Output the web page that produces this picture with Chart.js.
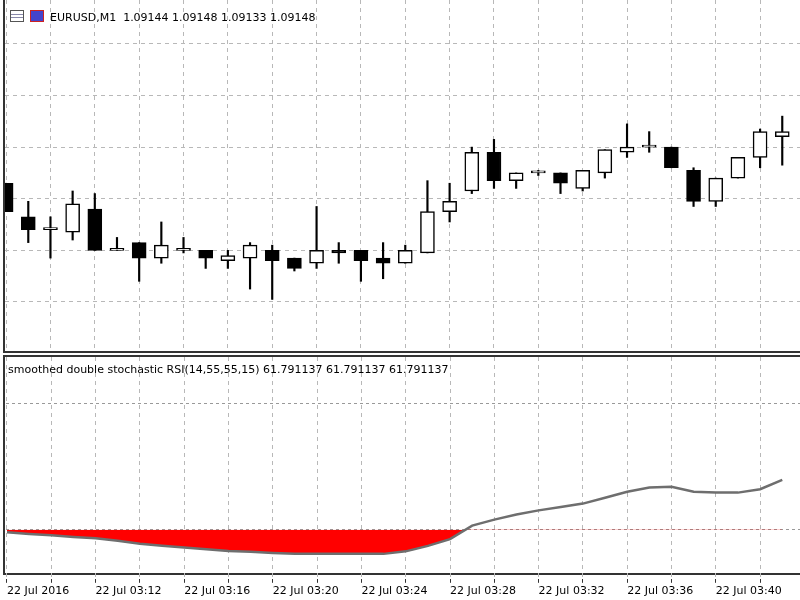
<!DOCTYPE html>
<html>
<head>
<meta charset="utf-8">
<script src="https://cdn.jsdelivr.net/npm/chart.js@4"></script>
<style>
  body { margin:0; width:800px; height:600px; background:#fff; overflow:hidden; position:relative; font-family:Tahoma, "DejaVu Sans", sans-serif; }
  #topPane { position:absolute; left:3px; top:0; width:797px; height:353px; border-left:2px solid #333; border-bottom:2px solid #333; box-sizing:border-box; }
  #botPane { position:absolute; left:3px; top:355px; width:797px; height:220px; border-left:2px solid #333; border-top:2px solid #333; border-bottom:2px solid #333; box-sizing:border-box; }
  #c1 { position:absolute; left:5px; top:0; }
  #c2 { position:absolute; left:5px; top:357px; }
  .t { position:absolute; font-size:11px; color:#000; white-space:nowrap; }
  .ico { position:absolute; top:10px; width:14px; height:12px; box-sizing:border-box; border:1px solid #555; }
</style>
</head>
<body>
<div id="topPane"></div>
<div id="botPane"></div>
<canvas id="c1" width="795" height="351"></canvas>
<canvas id="c2" width="795" height="243"></canvas>
<div class="ico" style="left:10px;background:linear-gradient(#fff 30%,#88a 30%,#88a 45%,#fff 45%,#fff 60%,#88a 60%,#88a 75%,#fff 75%);"></div>
<div class="ico" style="left:30px;background:#44c;border-color:#c22;"></div>
<div class="t" style="left:50px;top:11px;">EURUSD,M1&nbsp; 1.09144 1.09148 1.09133 1.09148</div>
<div class="t" style="left:8px;top:363px;">smoothed double stochastic RSI(14,55,55,15) 61.791137 61.791137 61.791137</div>
<script>
// candles, one per minute starting 03:08
const opens  = [1.09126,1.09113,1.09108,1.09107,1.09116,1.09100,1.09103,1.09097,1.09100,1.09100,1.09096,1.09097,1.09100,1.09097,1.09095,1.09100,1.09100,1.09097,1.09095,1.09099,1.09115,1.09123,1.09138,1.09127,1.09130,1.09130,1.09124,1.09130,1.09138,1.09140,1.09140,1.09131,1.09119,1.09128,1.09136,1.09144];
const highs  = [1.09126,1.09119,1.09113,1.09123,1.09122,1.09105,1.09103,1.09111,1.09105,1.09100,1.09100,1.09103,1.09102,1.09097,1.09117,1.09103,1.09100,1.09103,1.09102,1.09127,1.09126,1.09140,1.09143,1.09130,1.09131,1.09130,1.09131,1.09139,1.09149,1.09146,1.09140,1.09132,1.09128,1.09136,1.09147,1.09152];
const lows   = [1.09115,1.09103,1.09097,1.09104,1.09100,1.09100,1.09088,1.09095,1.09099,1.09093,1.09093,1.09085,1.09081,1.09092,1.09093,1.09095,1.09088,1.09089,1.09095,1.09099,1.09111,1.09122,1.09124,1.09124,1.09129,1.09122,1.09123,1.09128,1.09136,1.09138,1.09132,1.09117,1.09117,1.09128,1.09132,1.09133];
const closes = [1.09115,1.09108,1.09108,1.09118,1.09100,1.09100,1.09097,1.09102,1.09100,1.09097,1.09098,1.09102,1.09096,1.09093,1.09100,1.09099,1.09096,1.09095,1.09100,1.09115,1.09119,1.09138,1.09127,1.09130,1.09130,1.09126,1.09131,1.09139,1.09140,1.09140,1.09132,1.09119,1.09128,1.09136,1.09146,1.09146];
const rsiValues = [49.4,49.0,48.7,48.3,48.0,47.4,46.7,46.2,45.8,45.4,45.0,44.8,44.5,44.3,44.3,44.3,44.3,44.3,44.9,46.2,47.8,51.0,52.4,53.6,54.6,55.4,56.2,57.6,59.0,60.0,60.2,59.0,58.8,58.8,59.6,61.8];
const timeLabels = {0:'22 Jul 2016',4:'22 Jul 03:12',8:'22 Jul 03:16',12:'22 Jul 03:20',16:'22 Jul 03:24',20:'22 Jul 03:28',24:'22 Jul 03:32',28:'22 Jul 03:36',32:'22 Jul 03:40'};
const priceGrid = [1.0908,1.0910,1.0912,1.0914,1.0916,1.0918];
const rsiLevels = [50,80];
const rsiLevel = 50;

const gridCol = '#b8b8b8';
const xMin = -0.05, xMax = 35.8;
const vGrid = [];
for (let i = 0; i <= 34; i += 2) vGrid.push(i);

function xScale(showTicks) {
    return {
        type: 'linear', min: xMin, max: xMax, offset: false,
        afterBuildTicks: s => { s.ticks = vGrid.map(v => ({value: v})); },
        grid: { color: gridCol, drawTicks: showTicks, tickLength: 4, tickColor: '#333', offset: false },
        border: { display: false, dash: [4,4] },
        ticks: {
            display: showTicks, autoSkip: false, maxRotation: 0, align: 'start', padding: 2,
            color: '#000', font: { family: 'Tahoma, DejaVu Sans, sans-serif', size: 11 },
            callback: v => timeLabels[v] || ''
        }
    };
}

Chart.defaults.animation = false;

const idx = opens.map((_, i) => i);
new Chart(document.getElementById('c1'), {
    type: 'bar',
    data: {
        datasets: [
            {
                data: idx.map(i => ({x: i, y: [opens[i], closes[i]]})),
                backgroundColor: idx.map(i => closes[i] >= opens[i] ? '#fff' : '#000'),
                borderColor: '#000', borderWidth: 1.5, borderSkipped: false,
                barThickness: 14, minBarLength: 2, grouped: false
            },
            {
                data: idx.map(i => ({x: i, y: [lows[i], highs[i]]})),
                backgroundColor: '#000', borderWidth: 0,
                barThickness: 1.5, grouped: false
            }
        ]
    },
    options: {
        responsive: false, maintainAspectRatio: false,
        plugins: { legend: {display: false}, tooltip: {enabled: false} },
        layout: { padding: 0 },
        scales: {
            x: xScale(false),
            y: {
                min: 1.09061, max: 1.09197,
                afterBuildTicks: s => { s.ticks = priceGrid.map(v => ({value: v})); },
                ticks: { display: false },
                grid: { color: gridCol, drawTicks: false },
                border: { display: false, dash: [4,4] }
            }
        }
    }
});

new Chart(document.getElementById('c2'), {
    type: 'line',
    data: {
        datasets: [{
            data: idx.map(i => ({x: i, y: rsiValues[i]})),
            borderColor: '#6e6e6e', borderWidth: 2.5, pointRadius: 0, tension: 0,
            fill: { target: {value: rsiLevel}, below: '#ff0000', above: 'rgba(0,0,0,0)' }
        }]
    },
    options: {
        responsive: false, maintainAspectRatio: false,
        plugins: { legend: {display: false}, tooltip: {enabled: false} },
        layout: { padding: 0 },
        scales: {
            x: xScale(true),
            y: {
                min: 38.4, max: 90.9,
                afterBuildTicks: s => { s.ticks = rsiLevels.map(v => ({value: v})); },
                ticks: { display: false },
                grid: { color: '#999', drawTicks: false },
                border: { display: false, dash: [3,3] }
            }
        }
    }
});
</script>
</body>
</html>
